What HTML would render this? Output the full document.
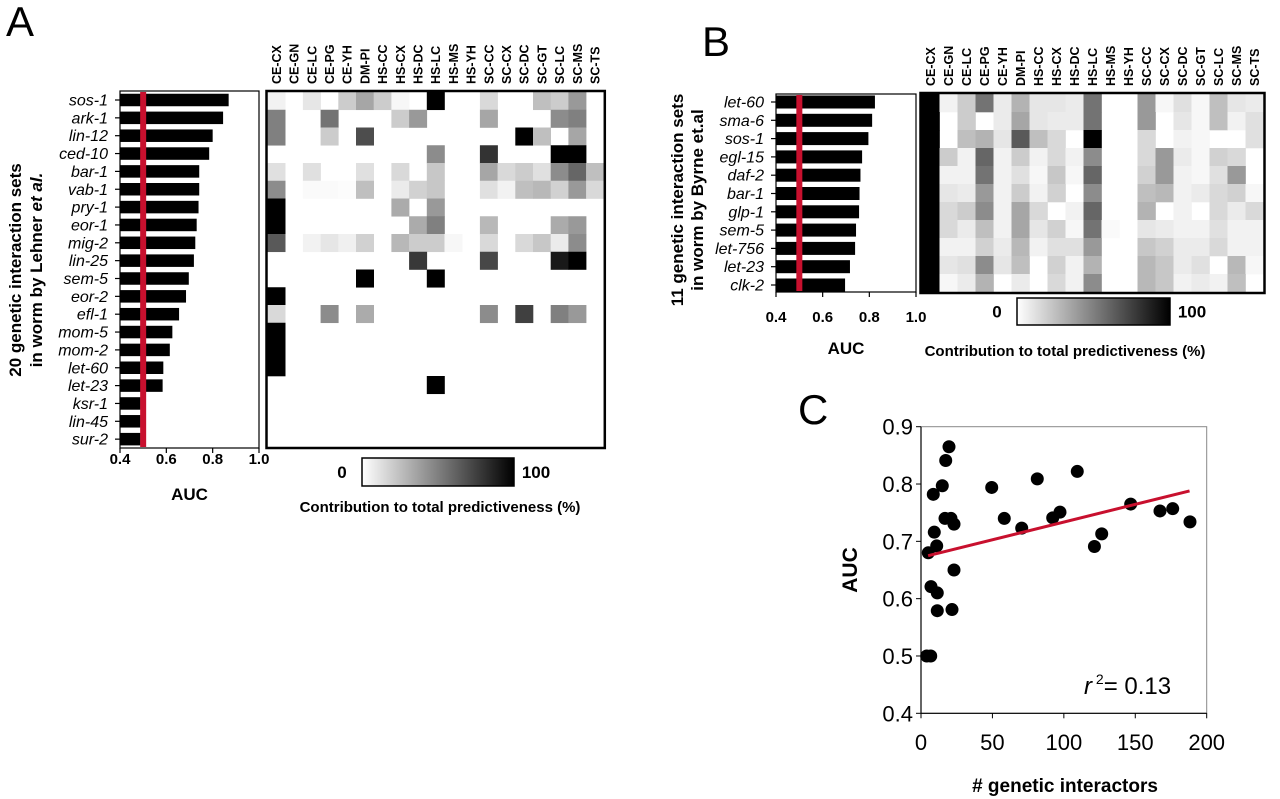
<!DOCTYPE html>
<html><head><meta charset="utf-8"><style>
html,body{margin:0;padding:0;background:#fff;}
svg{display:block;font-family:"Liberation Sans",Arial,sans-serif;}
</style></head><body>
<svg id="fig" width="1280" height="799" viewBox="0 0 1280 799" xmlns="http://www.w3.org/2000/svg">
<defs><linearGradient id="cb" x1="0" x2="1" y1="0" y2="0"><stop offset="0" stop-color="#fff"/><stop offset="1" stop-color="#000"/></linearGradient></defs>
<text x="6" y="36" font-size="42">A</text>
<text x="702" y="56" font-size="42">B</text>
<text x="798" y="424" font-size="42">C</text>
<g id="gA"></g>
<g id="gB"></g>
<g id="gC"></g>
</svg>
<script>
const colLabels=["CE-CX","CE-GN","CE-LC","CE-PG","CE-YH","DM-PI","HS-CC","HS-CX","HS-DC","HS-LC","HS-MS","HS-YH","SC-CC","SC-CX","SC-DC","SC-GT","SC-LC","SC-MS","SC-TS"];
const genesA=["sos-1","ark-1","lin-12","ced-10","bar-1","vab-1","pry-1","eor-1","mig-2","lin-25","sem-5","eor-2","efl-1","mom-5","mom-2","let-60","let-23","ksr-1","lin-45","sur-2"];
const aucA=[0.869,0.845,0.800,0.785,0.742,0.742,0.739,0.731,0.725,0.719,0.697,0.685,0.655,0.626,0.615,0.587,0.584,0.488,0.488,0.488];
const heatA=[
[5,0,10,0,20,35,20,3,0,100,0,0,15,0,0,25,20,40,0],
[50,0,0,55,0,0,0,20,40,0,0,0,35,0,0,0,45,50,0],
[50,0,0,20,0,70,0,0,0,0,0,0,0,0,100,25,0,35,0],
[0,0,0,0,0,0,0,0,0,45,0,0,80,0,0,0,100,100,0],
[12,0,12,0,0,12,0,15,0,22,0,0,35,15,20,12,45,60,25],
[45,0,2,2,1,25,0,8,18,22,0,0,12,5,25,28,18,40,15],
[100,0,0,0,0,0,0,33,0,40,0,0,0,0,0,0,0,0,0],
[100,0,0,0,0,0,0,0,33,50,0,0,28,0,0,0,33,40,0],
[65,0,5,10,6,18,0,28,20,20,3,0,15,0,15,22,8,45,0],
[0,0,0,0,0,0,0,0,78,0,0,0,72,0,0,0,90,100,0],
[0,0,0,0,0,100,0,0,0,100,0,0,0,0,0,0,0,0,0],
[100,0,0,0,0,0,0,0,0,0,0,0,0,0,0,0,0,0,0],
[15,0,0,45,0,33,0,0,0,0,0,0,45,0,75,0,50,40,0],
[100,0,0,0,0,0,0,0,0,0,0,0,0,0,0,0,0,0,0],
[100,0,0,0,0,0,0,0,0,0,0,0,0,0,0,0,0,0,0],
[100,0,0,0,0,0,0,0,0,0,0,0,0,0,0,0,0,0,0],
[0,0,0,0,0,0,0,0,0,100,0,0,0,0,0,0,0,0,0],
[0,0,0,0,0,0,0,0,0,0,0,0,0,0,0,0,0,0,0],
[0,0,0,0,0,0,0,0,0,0,0,0,0,0,0,0,0,0,0],
[0,0,0,0,0,0,0,0,0,0,0,0,0,0,0,0,0,0,0]];
const genesB=["let-60","sma-6","sos-1","egl-15","daf-2","bar-1","glp-1","sem-5","let-756","let-23","clk-2"];
const aucB=[0.824,0.812,0.796,0.769,0.762,0.758,0.756,0.743,0.739,0.717,0.696];
const heatB=[
[100,5,20,55,8,30,10,10,8,55,0,0,40,3,12,3,25,10,8],
[100,0,20,0,8,35,10,8,8,55,0,0,40,0,10,3,25,5,12],
[100,0,25,30,10,65,25,15,0,100,0,0,15,0,5,3,0,0,12],
[100,20,5,60,5,20,5,15,5,45,0,0,15,40,8,3,18,15,0],
[100,5,5,55,5,12,3,22,3,60,0,0,18,40,5,3,12,40,0],
[100,10,8,40,5,20,5,18,0,45,0,0,25,28,5,8,15,18,3],
[100,15,20,45,5,35,15,0,5,60,0,0,30,0,5,0,15,8,15],
[100,15,8,25,5,35,10,18,3,55,2,0,10,8,5,5,12,5,5],
[100,5,5,18,8,28,5,12,12,40,0,0,22,18,8,8,15,5,5],
[100,10,12,45,10,25,0,18,5,30,0,0,28,22,8,12,0,28,3],
[100,3,8,30,0,8,0,15,5,45,0,0,28,22,5,8,5,25,0]];
const xTicksAUC=[0.4,0.6,0.8,1.0];
const interactors=[5.1,8.6,14.9,19.6,17.3,9.3,11,16.8,21,23.1,23.1,7,11.4,11.4,21.7,4,6.8,49.5,58.3,70.5,81.4,92.2,97.3,109.4,121.4,126.5,146.8,167.3,176.2,188.3];
const aucC=[0.680,0.782,0.797,0.865,0.841,0.716,0.692,0.740,0.740,0.730,0.650,0.621,0.610,0.579,0.581,0.500,0.500,0.794,0.740,0.723,0.809,0.741,0.751,0.822,0.691,0.713,0.765,0.753,0.757,0.734];
const fitX=[5,188];
const fitY=[0.675,0.788];
const cXTicks=[0,50,100,150,200];
const cYTicks=[0.4,0.5,0.6,0.7,0.8,0.9];

const NS="http://www.w3.org/2000/svg";
function mk(parent,tag,attrs,text){const e=document.createElementNS(NS,tag);for(const k in attrs)e.setAttribute(k,attrs[k]);if(text!==undefined)e.textContent=text;parent.appendChild(e);return e;}
function gray(v){const c=Math.round(255*(1-v/100));return `rgb(${c},${c},${c})`;}

function barPanel(g,cfg){
  const {genes,auc,x0,x1,top,bot,row0,step,bh,labelX,tickY,aucY,titleX,titleY,titleLines,tag}=cfg;
  const sx=v=>x0+(v-0.4)/0.6*(x1-x0);
  mk(g,'rect',{x:x0,y:top,width:x1-x0,height:bot-top,fill:'none',stroke:'#000','stroke-width':1.2});
  genes.forEach((gn,i)=>{
    const cy=row0+i*step;
    const r=mk(g,'rect',{x:x0,y:cy-bh/2,width:sx(auc[i])-x0,height:bh,fill:'#000'});
    
    
    mk(g,'line',{x1:x0-5,x2:x0,y1:cy,y2:cy,stroke:'#000','stroke-width':1.2});
    const t=mk(g,'text',{x:labelX,y:cy+5.5,'text-anchor':'end','font-size':16,'font-style':'italic'},gn);
    
    
  });
  const red=mk(g,'rect',{x:sx(0.5)-3,y:top+1,width:6,height:bot-top-2,fill:'#c8102e'});
  
  
  xTicksAUC.forEach(v=>{
    mk(g,'line',{x1:sx(v),x2:sx(v),y1:bot,y2:bot+5,stroke:'#000','stroke-width':1.2});
    const t=mk(g,'text',{x:sx(v),y:tickY,'text-anchor':'middle','font-size':15,'font-weight':'bold'},v.toFixed(1));
    
    
  });
  const a=mk(g,'text',{x:(x0+x1)/2,y:aucY,'text-anchor':'middle','font-size':17,'font-weight':'bold'},'AUC');
  
  
  titleLines.forEach((ln,j)=>{
    const t=mk(g,'text',{x:0,y:0,'text-anchor':'middle','font-size':17,'font-weight':'bold',transform:`translate(${titleX[j]},${titleY}) rotate(-90)`});
    t.innerHTML=ln;
    
    
  });
}

function heatPanel(g,cfg){
  const {data,x0,y0,cw,ch,cb,tag}=cfg;
  const nr=data.length,nc=colLabels.length;
  data.forEach((row,i)=>row.forEach((v,j)=>{
    if(v<=0)return;
    const r=mk(g,'rect',{x:x0+j*cw,y:y0+i*ch,width:cw+0.3,height:ch+0.3,fill:gray(v)});
    
    
  }));
  const b=mk(g,'rect',{x:x0-1,y:y0-1,width:nc*cw+2,height:nr*ch+2,fill:'none',stroke:'#000','stroke-width':2.5});
  
  
  colLabels.forEach((c,j)=>{
    const x=x0+j*cw+cw/2+4.5;
    const t=mk(g,'text',{x:0,y:0,'font-size':12.5,'font-weight':'bold',transform:`translate(${x},${y0-8}) rotate(-90)`},c);
    
    
  });
  const bar=mk(g,'rect',{x:cb.x,y:cb.y,width:cb.w,height:cb.h,fill:'url(#cb)',stroke:'#000','stroke-width':1.5});
  
  
  const l0=mk(g,'text',{x:cb.x-20,y:cb.y+cb.h/2+6,'text-anchor':'middle','font-size':17,'font-weight':'bold'},'0');
  
  const l1=mk(g,'text',{x:cb.x+cb.w+22,y:cb.y+cb.h/2+6,'text-anchor':'middle','font-size':17,'font-weight':'bold'},'100');
  
  const cap=mk(g,'text',{x:cb.cx,y:cb.capY,'text-anchor':'middle','font-size':15,'font-weight':'bold'},'Contribution to total predictiveness (%)');
  
}

const gA=document.getElementById('gA'),gB=document.getElementById('gB'),gC=document.getElementById('gC');
barPanel(gA,{genes:genesA,auc:aucA,x0:120,x1:259,top:91,bot:448,row0:100,step:17.85,bh:12.5,labelX:108,tickY:464,aucY:500,titleX:[21,42],titleY:270,titleLines:['20 genetic interaction sets','in worm by Lehner <tspan font-style="italic">et al.</tspan>'],tag:'a'});
heatPanel(gA,{data:heatA,x0:267.5,y0:92,cw:17.7,ch:17.75,tag:'a',cb:{x:362,y:458,w:152,h:28,cx:440,capY:512}});
barPanel(gB,{genes:genesB,auc:aucB,x0:776,x1:916,top:94,bot:292,row0:102,step:18.3,bh:13,labelX:764,tickY:322,aucY:354,titleX:[683,703],titleY:200,titleLines:['11 genetic interaction sets','in worm by Byrne et.al'],tag:'b'});
heatPanel(gB,{data:heatB,x0:921.5,y0:94,cw:18.0,ch:18.0,tag:'b',cb:{x:1017,y:298,w:153,h:27,cx:1065,capY:356}});

// Panel C
const cx0=921,cx1=1206.7,cy0=713.3,cy1=426.7;
const sxC=v=>cx0+v/200*(cx1-cx0), syC=v=>cy0-(v-0.4)/0.5*(cy0-cy1);
mk(gC,'rect',{x:cx0,y:cy1,width:cx1-cx0,height:cy0-cy1,fill:'none',stroke:'#888','stroke-width':1});
mk(gC,'line',{x1:cx0,x2:cx0,y1:cy1,y2:cy0,stroke:'#000','stroke-width':1.2});
mk(gC,'line',{x1:cx0,x2:cx1,y1:cy0,y2:cy0,stroke:'#000','stroke-width':1.2});
cYTicks.forEach(v=>{
  mk(gC,'line',{x1:cx0-5,x2:cx0,y1:syC(v),y2:syC(v),stroke:'#000'});
  const t=mk(gC,'text',{x:cx0-8,y:syC(v)+8,'text-anchor':'end','font-size':22},v.toFixed(1));
  
});
cXTicks.forEach(v=>{
  mk(gC,'line',{x1:sxC(v),x2:sxC(v),y1:cy0,y2:cy0+5,stroke:'#000'});
  const t=mk(gC,'text',{x:sxC(v),y:750,'text-anchor':'middle','font-size':22},String(v));
  
});
interactors.forEach((x,i)=>{
  const c=mk(gC,'circle',{cx:sxC(x),cy:syC(aucC[i]),r:6.5,fill:'#000'});
  
  
});
const fl=mk(gC,'line',{x1:sxC(fitX[0]),y1:syC(fitY[0]),x2:sxC(fitX[1]),y2:syC(fitY[1]),stroke:'#c8102e','stroke-width':3});


const r2=mk(gC,'text',{x:1084,y:694,'font-size':24});
r2.innerHTML='<tspan font-style="italic">r</tspan><tspan font-size="14" dy="-10"> 2</tspan><tspan dy="10">= 0.13</tspan>';


const ya=mk(gC,'text',{x:0,y:0,'text-anchor':'middle','font-size':21,'font-weight':'bold',transform:`translate(857,570) rotate(-90)`},'AUC');

const xa=mk(gC,'text',{x:1065,y:792,'text-anchor':'middle','font-size':19,'font-weight':'bold'},'# genetic interactors');

</script>
</body></html>
